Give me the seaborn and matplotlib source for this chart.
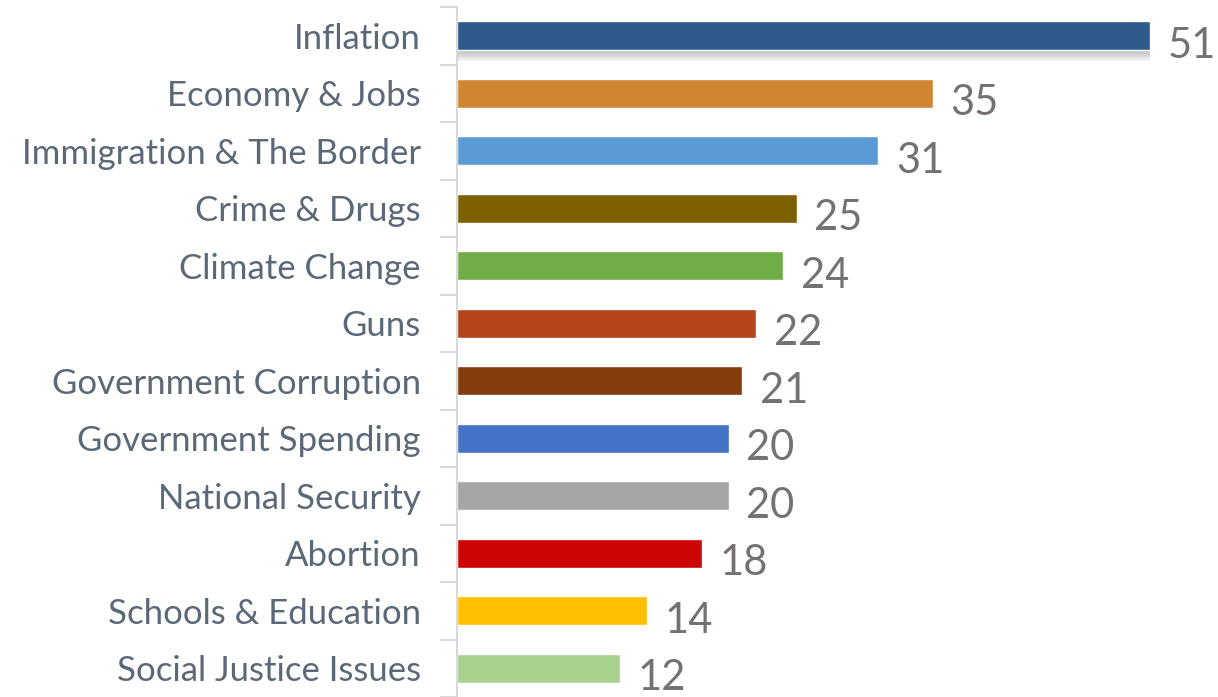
import matplotlib
matplotlib.use("Agg")
import matplotlib.pyplot as plt
import matplotlib.patheffects as pe
import seaborn as sns
import numpy as np

# issues and share of mentions
issues = ["Inflation", "Economy & Jobs", "Immigration & The Border", "Crime & Drugs",
          "Climate Change", "Guns", "Government Corruption", "Government Spending",
          "National Security", "Abortion", "Schools & Education", "Social Justice Issues"]
values = [51, 35, 31, 25, 24, 22, 21, 20, 20, 18, 14, 12]
colors = ["#2E5A8C", "#D08630", "#5B9BD5", "#7F6000", "#70AD47", "#B5441A",
          "#843C0C", "#4472C4", "#A5A5A5", "#CC0605", "#FFC000", "#A9D18E"]

sns.set_style("white")
plt.rcParams["font.family"] = ["Lato", "DejaVu Sans"]

fig = plt.figure(figsize=(12.18, 6.97), dpi=100)
ax = fig.add_axes([457 / 1218, 0.0, 1 - 457 / 1218, 1 - 7 / 697])

sns.barplot(x=values, y=issues, hue=issues, palette=colors, width=0.5,
            legend=False, ax=ax, saturation=1, orient="h")

# soft shadow under the top bar (stacked faint copies)
shadow = [pe.SimplePatchShadow(offset=(0, -k), shadow_rgbFace="#7F7F7F", alpha=0.07)
          for k in range(2, 9)]
ax.patches[0].set_path_effects(shadow + [pe.Normal()])

for i, v in enumerate(values):
    ax.text(v + 1.3, i + 0.17, str(v), va="center", ha="left",
            fontsize=30, color="#767171")

ax.set_xlim(0, 56)
ax.set_ylim(11.5, -0.5)
ax.set_xlabel("")
ax.set_ylabel("")
ax.set_xticks([])

ax.set_yticks(np.arange(-0.5, 12, 1), minor=True)
ax.tick_params(axis="y", which="major", length=0, pad=26, labelsize=25, labelcolor="#5B6878")
ax.tick_params(axis="y", which="minor", length=12, width=1.5, color="#D9D9D9", left=True)

for s in ["top", "right", "bottom"]:
    ax.spines[s].set_visible(False)
ax.spines["left"].set_color("#D9D9D9")
ax.spines["left"].set_linewidth(1.5)

fig.savefig("out.png", dpi=100)
